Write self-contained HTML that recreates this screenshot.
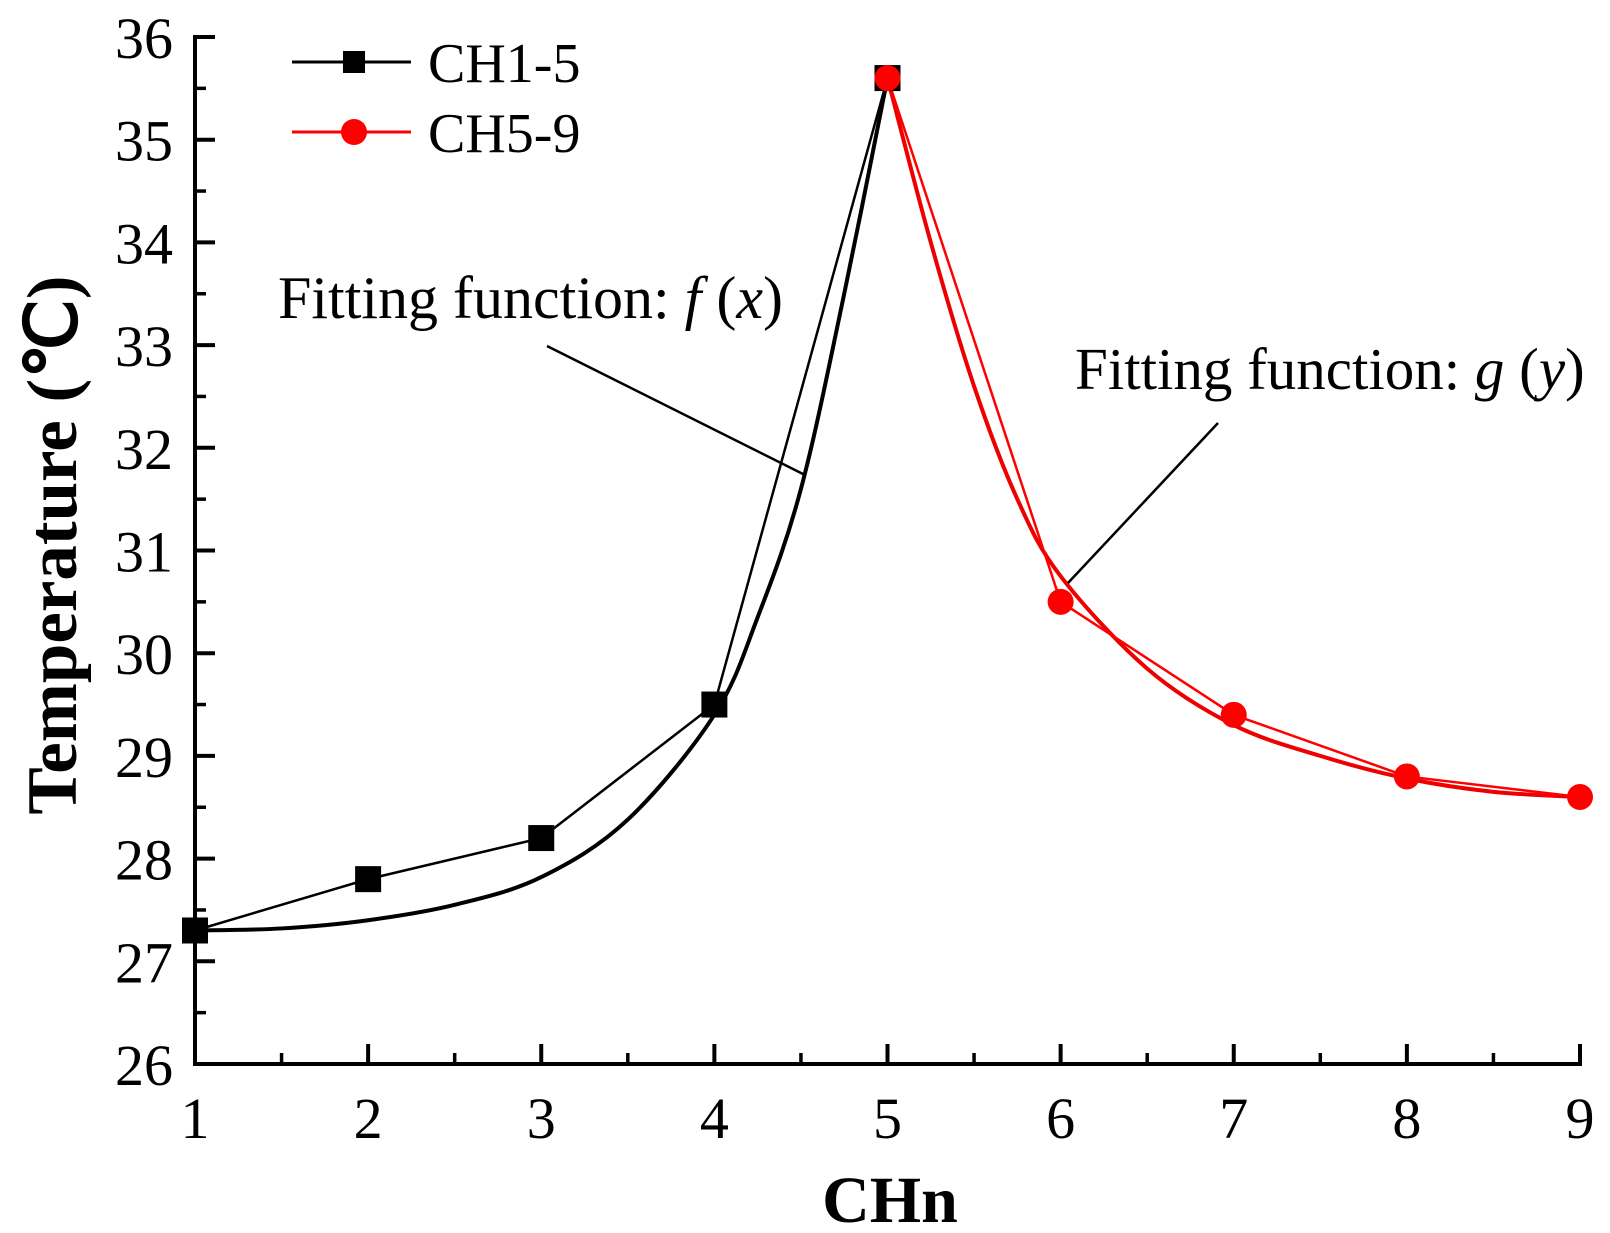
<!DOCTYPE html>
<html><head><meta charset="utf-8"><style>
html,body{margin:0;padding:0;background:#fff;}
svg{display:block;font-family:"Liberation Serif",serif;}
</style></head><body>
<svg id="chart" width="1610" height="1233" viewBox="0 0 1610 1233">
<g id="axes"></g>
<g id="series"></g>
<g>
  <line x1="292" y1="62" x2="411" y2="62" stroke="#000" stroke-width="3"/>
  <rect x="343" y="51" width="22" height="22" fill="#000"/>
  <text x="428" y="82" font-size="56">CH1-5</text>
  <line x1="292" y1="132" x2="411" y2="132" stroke="#f00" stroke-width="3"/>
  <circle cx="354" cy="132" r="13" fill="#f00"/>
  <text x="428" y="152" font-size="56">CH5-9</text>
</g>
<g>
  <text x="278" y="318" font-size="60">Fitting function: <tspan font-style="italic">f</tspan> (<tspan font-style="italic">x</tspan>)</text>
  <line x1="547" y1="346" x2="805" y2="475" stroke="#000" stroke-width="2.5"/>
</g>
<g>
  <text x="1075" y="389" font-size="59">Fitting function: <tspan font-style="italic">g</tspan> (<tspan font-style="italic">y</tspan>)</text>
  <line x1="1218" y1="423" x2="1068" y2="583" stroke="#000" stroke-width="2.5"/>
</g>
<text x="890" y="1222" font-size="66" font-weight="bold" text-anchor="middle">CHn</text>
<text transform="translate(76,545) rotate(-90)" font-size="71" font-weight="bold" text-anchor="middle">Temperature (℃)</text>
</svg>
<script>
const xTicks=[1,2,3,4,5,6,7,8,9];
const yTicks=[26,27,28,29,30,31,32,33,34,35,36];
const ch15X=[1,2,3,4,5];
const ch15Y=[27.3,27.8,28.2,29.5,35.6];
const ch59X=[5,6,7,8,9];
const ch59Y=[35.6,30.5,29.4,28.8,28.6];
const fitFX=[1,1.5,2,2.5,3,3.5,4,4.25,4.5,4.75,5];
const fitFY=[27.3,27.32,27.4,27.55,27.82,28.38,29.4,30.35,31.6,33.5,35.6];
const fitGX=[5,5.25,5.5,5.75,6,6.5,7,7.5,8,8.5,9];
const fitGY=[35.6,34.0,32.6,31.5,30.75,29.85,29.3,29.0,28.78,28.65,28.6];

const X0=195,X1=1580,Y0=1064,Y1=37;
const sx=v=>X0+(v-1)/(9-1)*(X1-X0);
const sy=v=>Y0-(v-26)/(36-26)*(Y0-Y1);
const NS='http://www.w3.org/2000/svg';
function mk(tag,attrs,parent){const e=document.createElementNS(NS,tag);for(const k in attrs)e.setAttribute(k,attrs[k]);parent.appendChild(e);return e;}
const axes=document.getElementById('axes'),series=document.getElementById('series');
let ya=mk('line',{x1:X0,y1:Y1-2,x2:X0,y2:Y0+2,stroke:'#000','stroke-width':4},axes);


let xa=mk('line',{x1:X0-2,y1:Y0,x2:X1+2,y2:Y0,stroke:'#000','stroke-width':4},axes);


yTicks.forEach((t,i)=>{
  const y=sy(t);
  mk('line',{x1:X0,y1:y,x2:X0+20,y2:y,stroke:'#000','stroke-width':4},axes);
  if(i<yTicks.length-1){const m=sy(t+0.5);mk('line',{x1:X0,y1:m,x2:X0+11,y2:m,stroke:'#000','stroke-width':3.5},axes);}
  const tx=mk('text',{x:X0-22,y:y+21,'font-size':58,'text-anchor':'end'},axes);
  tx.textContent=t;
  
  
});
xTicks.forEach((t,i)=>{
  const x=sx(t);
  mk('line',{x1:x,y1:Y0,x2:x,y2:Y0-20,stroke:'#000','stroke-width':4},axes);
  if(i<xTicks.length-1){const m=sx(t+0.5);mk('line',{x1:m,y1:Y0,x2:m,y2:Y0-11,stroke:'#000','stroke-width':3.5},axes);}
  const tx=mk('text',{x:x,y:Y0+74,'font-size':58,'text-anchor':'middle'},axes);
  tx.textContent=t;
  
  
});
function smooth(xs,ys){
  const p=xs.map((x,i)=>[sx(x),sy(ys[i])]);
  let d='M'+p[0][0]+','+p[0][1];
  for(let i=0;i<p.length-1;i++){
    const p0=p[i-1]||p[i],p1=p[i],p2=p[i+1],p3=p[i+2]||p2;
    const c1=[p1[0]+(p2[0]-p0[0])/6,p1[1]+(p2[1]-p0[1])/6];
    const c2=[p2[0]-(p3[0]-p1[0])/6,p2[1]-(p3[1]-p1[1])/6];
    d+=' C'+c1+' '+c2+' '+p2;
  }
  return d;
}
const poly=(xs,ys)=>xs.map((x,i)=>sx(x)+','+sy(ys[i])).join(' ');
let f=mk('path',{d:smooth(fitFX,fitFY),fill:'none',stroke:'#000','stroke-width':4},series);


let g=mk('path',{d:smooth(fitGX,fitGY),fill:'none',stroke:'#e00','stroke-width':4},series);


let l1=mk('polyline',{points:poly(ch15X,ch15Y),fill:'none',stroke:'#000','stroke-width':2.5},series);


let l2=mk('polyline',{points:poly(ch59X,ch59Y),fill:'none',stroke:'#f00','stroke-width':2.5},series);


ch15X.forEach((x,i)=>{
  const r=mk('rect',{x:sx(x)-13,y:sy(ch15Y[i])-13,width:26,height:26,fill:'#000'},series);
  
  
});
ch59X.forEach((x,i)=>{
  const c=mk('circle',{cx:sx(x),cy:sy(ch59Y[i]),r:13,fill:'#f00'},series);
  
  
});
</script>
</body></html>
